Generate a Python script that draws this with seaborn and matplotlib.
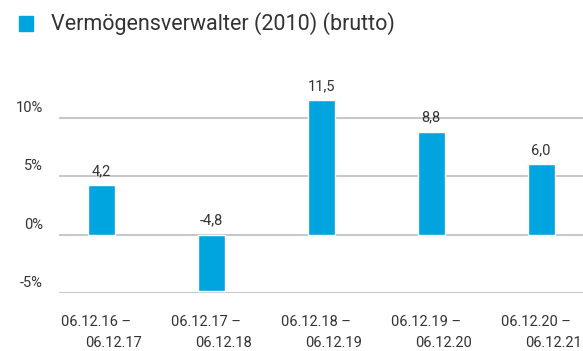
import matplotlib
matplotlib.use("Agg")
import matplotlib.pyplot as plt
import matplotlib.transforms as mtransforms
from matplotlib.patches import Rectangle
import seaborn as sns
import pandas as pd

# Data
period_start = ["06.12.16", "06.12.17", "06.12.18", "06.12.19", "06.12.20"]
period_end = ["06.12.17", "06.12.18", "06.12.19", "06.12.20", "06.12.21"]
returns = [4.2, -4.8, 11.5, 8.8, 6.0]
y_ticks = [-5, 0, 5, 10]
series_name = "Vermögensverwalter (2010) (brutto)"

BAR_COLOR = "#00A4DF"
TEXT_COLOR = "#333333"
GRID_COLOR = "#C8C8C8"

sns.set_theme(style="white")
plt.rcParams["font.family"] = ["Roboto", "DejaVu Sans"]

df = pd.DataFrame({
    "period": [f"{a} – {b}" for a, b in zip(period_start, period_end)],
    "value": returns,
})

fig = plt.figure(figsize=(5.83, 3.51), dpi=100)
W, H = 583, 351
ax = fig.add_axes([59 / W, 1 - 293 / H, 1 - 59 / W, (293 - 82.6) / H])

sns.barplot(data=df, x="period", y="value", color=BAR_COLOR, width=0.245,
            saturation=1, ax=ax)

ax.set_xlim(-0.382, 4.38)
ax.set_ylim(-5, 13)
ax.set_xlabel("")
ax.set_ylabel("")
for s in ax.spines.values():
    s.set_visible(False)

# Horizontal grid lines
for t in y_ticks:
    ax.axhline(t, color=GRID_COLOR, lw=1.5, zorder=0)
ax.set_yticks([])
ax.set_xticks([])

# Y tick labels, sitting just above each grid line
ytrans = mtransforms.blended_transform_factory(ax.transAxes, ax.transData)
for t in y_ticks:
    ax.annotate(f"{t}%", xy=(0, t), xycoords=ytrans,
                xytext=(-16, 3), textcoords="offset pixels",
                ha="right", va="bottom", fontsize=10.5, color=TEXT_COLOR)

# Value labels above bars (or above the zero line for negatives)
for i, v in enumerate(returns):
    ax.annotate(f"{v:.1f}".replace(".", ","), xy=(i, max(v, 0)),
                xytext=(0, 7), textcoords="offset pixels",
                ha="center", va="bottom", fontsize=10.5, color=TEXT_COLOR,
                annotation_clip=False)

# Two-line period labels below the axis
xtrans = mtransforms.blended_transform_factory(ax.transData, fig.transFigure)
for i, (a, b) in enumerate(zip(period_start, period_end)):
    ax.annotate(f"{a} –", xy=(i, 1 - 321.7 / H), xycoords=xtrans,
                xytext=(-40.5, 0), textcoords="offset pixels",
                ha="left", va="center", fontsize=10.5, color=TEXT_COLOR,
                annotation_clip=False)
    ax.annotate(b, xy=(i, 1 - 343 / H), xycoords=xtrans,
                xytext=(40.5, 0), textcoords="offset pixels",
                ha="right", va="center", fontsize=10.5, color=TEXT_COLOR,
                annotation_clip=False)

# Legend
fig.patches.append(Rectangle((19 / W, 1 - 31 / H), 14 / W, 15 / H,
                             transform=fig.transFigure, color=BAR_COLOR))
fig.text(51 / W, 1 - 24 / H, series_name, ha="left", va="center",
         fontsize=15.5, color=TEXT_COLOR)

fig.savefig("out.png", dpi=100)
